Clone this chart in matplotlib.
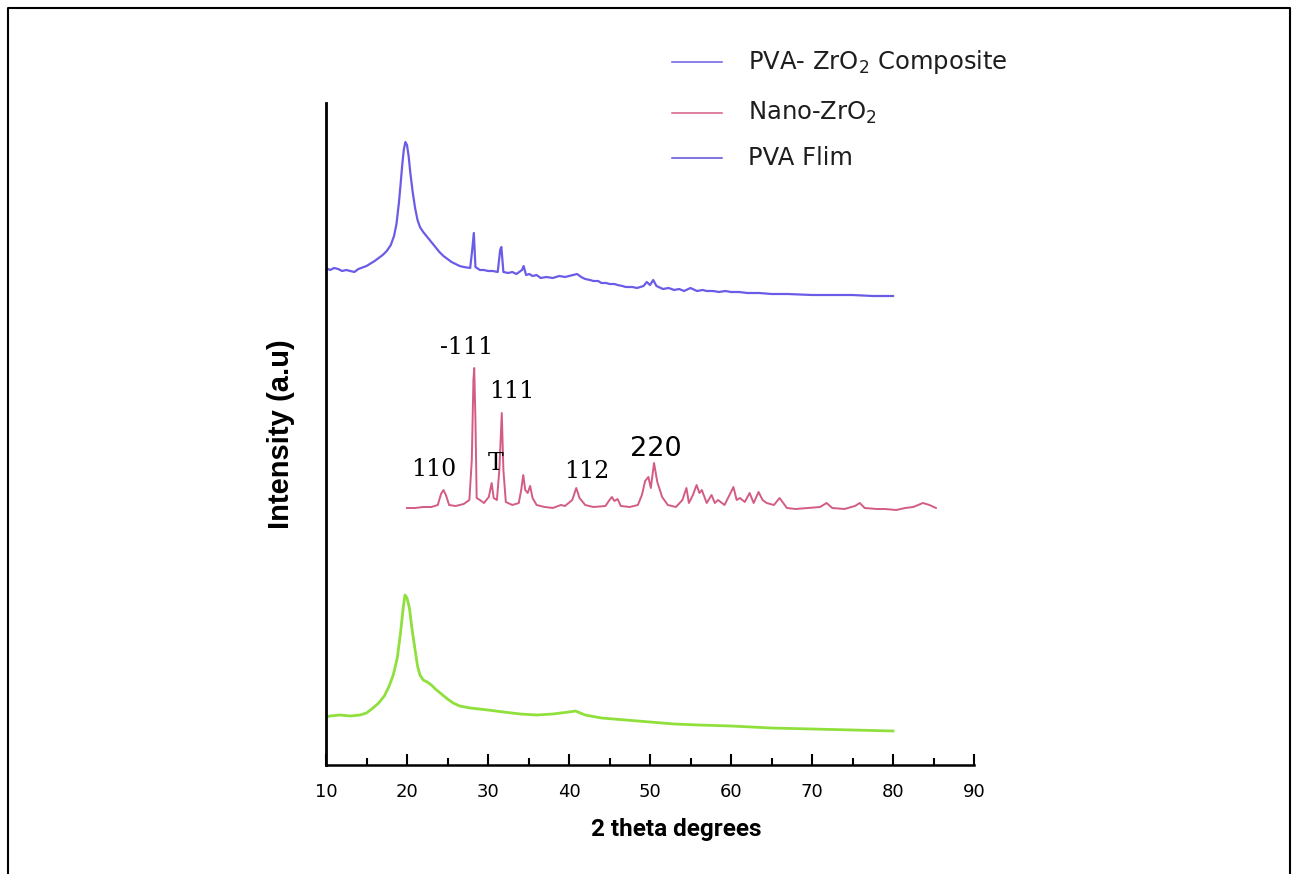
import matplotlib
matplotlib.use("Agg")
import matplotlib.pyplot as plt
from matplotlib.lines import Line2D

# XRD patterns, stacked with offsets (a.u.)
tt_comp = [10, 10.5, 11, 11.5, 12, 12.5, 13, 13.5, 14, 15, 16, 17, 17.5, 18, 18.4, 18.7,
           19.0, 19.2, 19.4, 19.6, 19.8, 20.0, 20.2, 20.4, 20.7, 21.0, 21.3, 21.6, 22,
           22.5, 23, 23.5, 24, 24.5, 25, 25.5, 26, 26.5, 27, 27.8, 28.05, 28.25,
           28.45, 29, 29.5, 30, 30.6, 31.2, 31.5, 31.65, 31.9, 32.5, 33, 33.5, 34.2, 34.4,
           34.7, 35.1, 35.5, 36, 36.5, 37.2, 38, 38.8, 39.5, 40.5, 41, 41.5, 42, 42.6,
           43, 43.6, 44, 44.6, 45, 45.6, 46, 46.6, 47, 47.8, 48.4, 49.2, 49.6, 50.0,
           50.4, 50.8, 51.6, 52.3, 53, 53.6, 54.2, 55, 55.8, 56.5, 57, 57.8, 58.5, 59.3,
           60, 61, 62, 63.5, 65, 67, 70, 72.5, 75, 77.5, 80]
i_comp = [480, 478, 480, 479, 477, 478, 477, 476, 479, 482, 487, 493, 497, 503, 512, 524,
          545, 563, 582, 598, 606, 603, 592, 576, 556, 540, 528, 521, 516,
          511, 506, 501, 496, 492, 489, 486, 484, 482, 481, 480, 498, 515,
          481, 478, 478, 477, 477, 476, 498, 501, 476, 475, 476, 474, 478, 482,
          473, 474, 472, 473, 470, 471, 470, 472, 471, 473, 474, 471, 469, 468,
          467, 467, 465, 465, 464, 464, 463, 462, 461, 461, 460, 462, 466, 463,
          468, 462, 459, 460, 458, 459, 457, 460, 457, 458, 457, 457, 456, 457,
          456, 456, 455, 455, 454, 454, 453, 453, 453, 452, 452]

tt_nano = [20, 21, 22, 23, 23.8, 24.2, 24.5, 24.8, 25.2, 26, 27, 27.7, 28.0, 28.2, 28.3,
           28.45, 28.6, 29.0, 29.5, 30.1, 30.45, 30.7, 31.1, 31.4, 31.7, 31.9, 32.2, 33,
           33.8, 34.1, 34.35, 34.6, 34.9, 35.2, 35.5, 36, 37, 38, 39, 39.5, 40.4, 40.9,
           41.3, 42, 43, 44.5, 45, 45.3, 45.6, 46, 46.4, 47.5, 48.5, 49.0, 49.4, 49.8,
           50.1, 50.5, 50.9, 51.5, 52.2, 53.2, 54.0, 54.5, 54.8, 55.3, 55.75, 56.1, 56.4,
           57.0, 57.6, 58.0, 58.4, 59.2, 60.0, 60.3, 60.7, 61.1, 61.7, 62.3, 62.8, 63.4,
           63.9, 64.4, 65.3, 66.0, 66.9, 68, 69.5, 71, 71.8, 72.5, 74, 75.3, 75.9, 76.5,
           78, 79, 80.4, 81.5, 82.5, 83.7, 84.5, 85.3]
i_nano = [240, 240, 241, 241, 243, 254, 258, 253, 243, 242, 244, 248, 288, 368, 380,
          328, 250, 248, 245, 251, 265, 250, 248, 278, 335, 278, 246, 243,
          245, 258, 273, 258, 255, 262, 250, 243, 241, 240, 243, 242, 248, 260,
          250, 243, 241, 242, 248, 251, 247, 249, 242, 241, 243, 253, 267, 271,
          260, 285, 266, 251, 243, 241, 248, 260, 245, 253, 263, 255, 258,
          245, 253, 245, 248, 243, 256, 261, 248, 250, 246, 255, 245, 256,
          248, 245, 243, 250, 240, 239, 240, 241, 245, 240, 239, 242, 245, 240,
          239, 239, 238, 240, 241, 245, 243, 240]

tt_pva = [10, 10.5, 11.7, 13, 14.2, 15, 15.8, 16.5, 17.2, 17.8, 18.3, 18.8, 19.2, 19.5,
          19.75, 20.0, 20.3, 20.6, 21.0, 21.3, 21.6, 22.0, 22.5, 23.0, 23.5, 24.1, 25,
          25.7, 26.5, 27.8, 30, 31.9, 34, 36, 38, 40, 40.8, 42, 44, 47, 50, 53, 56, 60,
          65, 70, 75, 80]
i_pva = [31, 32, 33, 32, 33, 35, 40, 45, 52, 62, 73, 90, 115, 138,
         153, 150, 140, 120, 98, 82, 73, 68, 66, 63, 59, 55, 49,
         45, 42, 40, 38, 36, 34, 33, 34, 36, 37, 33, 30, 28, 26, 24, 23, 22,
         20, 19, 18, 17]

# peak indexing: (label, 2theta, intensity)
peak_labels = ["-111", "111", "110", "T", "112"]
peak_x = [27.3, 33.0, 23.3, 30.9, 42.2]
peak_y = [401, 356, 278, 285, 277]

legend_names = ["PVA- ZrO$_2$ Composite", "Nano-ZrO$_2$", "PVA Flim"]
legend_colors = ["#6b5ce7", "#d35c83", "#5a50d8"]

fig = plt.figure(figsize=(12.98, 8.74), dpi=100)
ax = fig.add_axes([326/1298, 1-765/874, 648/1298, (765-103)/874])

ax.plot(tt_comp, i_comp, color="#6b5ce7", lw=1.6)
ax.plot(tt_nano, i_nano, color="#d35c83", lw=1.4)
ax.plot(tt_pva, i_pva, color="#8fe03c", lw=2.0)

for lab, x, y in zip(peak_labels, peak_x, peak_y):
    ax.text(x, y, lab, ha="center", va="center", fontsize=17, family="DejaVu Serif")
ax.text(50.7, 299, "220", ha="center", va="center", fontsize=19.5, family="DejaVu Sans")

ax.set_xlim(10, 90)
ax.set_ylim(-17, 645)
ax.set_xticks(range(10, 91, 10))
ax.set_xticks(range(15, 90, 10), minor=True)
ax.set_yticks([])
ax.tick_params(axis="x", which="major", direction="in", length=8, width=1.5,
               labelsize=13, pad=13)
ax.tick_params(axis="x", which="minor", direction="in", length=5, width=1.5)
for s in ["top", "right"]:
    ax.spines[s].set_visible(False)
ax.spines["left"].set_linewidth(2)
ax.spines["bottom"].set_linewidth(1.8)

ax.set_xlabel("2 theta degrees", fontsize=17.5, fontweight="bold", family="Roboto")
ax.xaxis.set_label_coords(0.54, -0.08)
ax.set_ylabel("Intensity (a.u)", fontsize=21, fontweight="bold", family="Liberation Sans",
              labelpad=22)

# legend drawn by hand in figure coords
for name, c, ypx in zip(legend_names, legend_colors, [62, 113, 158]):
    yf = 1 - ypx/874
    fig.add_artist(Line2D([672/1298, 722/1298], [yf, yf], color=c, lw=1.1,
                          transform=fig.transFigure))
    fig.text(748/1298, yf, name, va="center", ha="left", fontsize=17.5, color="#1e1e1e")

# outer frame (left, top, right)
fx = [8/1298, 8/1298, 1290/1298, 1290/1298]
fy = [0, 1-8/874, 1-8/874, 0]
fig.add_artist(Line2D(fx, fy, color="black", lw=1.5, transform=fig.transFigure))

fig.savefig("out.png", dpi=100)
